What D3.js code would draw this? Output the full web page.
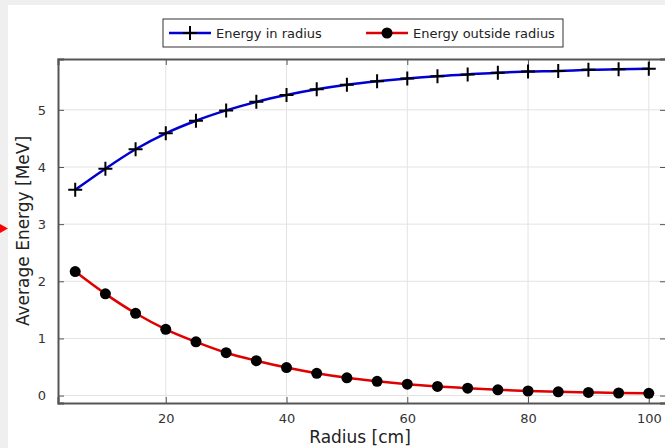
<!DOCTYPE html>
<html>
<head>
<meta charset="utf-8">
<script src="https://cdn.jsdelivr.net/npm/d3@7"></script>
<style>
  body { margin: 0; background: #efefef; }
  svg { display: block; font-family: "DejaVu Sans", sans-serif; }
</style>
</head>
<body>
<svg id="main" width="665" height="448"></svg>
<script>
var radius = [5, 10, 15, 20, 25, 30, 35, 40, 45, 50, 55, 60, 65, 70, 75, 80, 85, 90, 95, 100];
var energyIn = [3.60, 3.97, 4.31, 4.59, 4.81, 4.99, 5.14, 5.26, 5.36, 5.44, 5.50, 5.55, 5.59, 5.62, 5.65, 5.67, 5.68, 5.70, 5.71, 5.72];
var energyOut = [2.17, 1.78, 1.44, 1.16, 0.94, 0.75, 0.61, 0.49, 0.39, 0.31, 0.25, 0.20, 0.16, 0.13, 0.10, 0.08, 0.065, 0.055, 0.045, 0.04];
var xTicks = [20, 40, 60, 80, 100];
var yTicks = [0, 1, 2, 3, 4, 5];
var seriesNames = ["Energy in radius", "Energy outside radius"];

var svg = d3.select("#main");

// white panel on gray page
svg.append("rect").attr("x", 8).attr("y", 5).attr("width", 665).attr("height", 450).attr("fill", "white");

// red arrow at left edge
svg.append("path").attr("d", "M0,224 L8,228.5 L0,233 Z").attr("fill", "#ff0000");

var pL = 58, pT = 59, pR = 666, pB = 403;

var x = d3.scaleLinear().domain([2.15, 102.85]).range([pL, pR]);
var y = d3.scaleLinear().domain([-0.13, 5.89]).range([pB, pT]);

var g = svg.append("g");

// grid
g.selectAll(".gx").data(xTicks).enter().append("line")
  .attr("x1", d => x(d)).attr("x2", d => x(d)).attr("y1", pT).attr("y2", pB)
  .attr("stroke", "#e3e3e3").attr("stroke-width", 1);
g.selectAll(".gy").data(yTicks).enter().append("line")
  .attr("y1", d => y(d)).attr("y2", d => y(d)).attr("x1", pL).attr("x2", pR)
  .attr("stroke", "#e3e3e3").attr("stroke-width", 1);

// axes with inward ticks
var axB = g.append("g").attr("transform", "translate(0," + pB + ")")
  .call(d3.axisBottom(x).tickValues(xTicks).tickSize(-6).tickPadding(11).tickFormat(d3.format("d")));
var axT = g.append("g").attr("transform", "translate(0," + pT + ")")
  .call(d3.axisTop(x).tickValues(xTicks).tickSize(-6).tickFormat(""));
var axL = g.append("g").attr("transform", "translate(" + pL + ",0)")
  .call(d3.axisLeft(y).tickValues(yTicks).tickSize(-6).tickPadding(12).tickFormat(d3.format("d")));
var axR = g.append("g").attr("transform", "translate(" + pR + ",0)")
  .call(d3.axisRight(y).tickValues(yTicks).tickSize(-6).tickFormat(""));

[axB, axT, axL, axR].forEach(function(a) {
  a.select(".domain").attr("stroke", "#555").attr("stroke-width", 2);
  a.selectAll(".tick line").attr("stroke", "#555").attr("stroke-width", 1);
  a.selectAll(".tick text").attr("fill", "#333").attr("font-size", 13).attr("font-family", "DejaVu Sans");
});

// lines
var lineGen = d3.line().x((d, i) => x(radius[i])).y(d => y(d)).curve(d3.curveMonotoneX);
g.append("path").datum(energyIn).attr("d", lineGen)
  .attr("fill", "none").attr("stroke", "#0000d0").attr("stroke-width", 2.5);
g.append("path").datum(energyOut).attr("d", lineGen)
  .attr("fill", "none").attr("stroke", "#e00000").attr("stroke-width", 2.5);

// markers
function cross(sel, cx, cy, s) {
  sel.append("path").attr("d", "M" + (cx - s) + "," + cy + "H" + (cx + s) + "M" + cx + "," + (cy - s) + "V" + (cy + s))
    .attr("stroke", "black").attr("stroke-width", 2).attr("fill", "none");
}
energyIn.forEach(function(v, i) { cross(g, x(radius[i]), y(v), 7); });
g.selectAll(".dot").data(energyOut).enter().append("circle")
  .attr("cx", (d, i) => x(radius[i])).attr("cy", d => y(d)).attr("r", 5.5).attr("fill", "black");

// axis titles
svg.append("text").attr("x", (pL + 662) / 2).attr("y", 443).attr("text-anchor", "middle")
  .attr("font-size", 17).attr("fill", "#222").text("Radius [cm]");
svg.append("text").attr("transform", "translate(29," + ((pT + pB) / 2) + ") rotate(-90)")
  .attr("text-anchor", "middle").attr("font-size", 17).attr("fill", "#222").text("Average Energy [MeV]");

// legend
var lg = svg.append("g");
lg.append("rect").attr("x", 163).attr("y", 19).attr("width", 400).attr("height", 28)
  .attr("fill", "white").attr("stroke", "#333").attr("stroke-width", 1);
lg.append("line").attr("x1", 169).attr("x2", 211).attr("y1", 33).attr("y2", 33)
  .attr("stroke", "#0000d0").attr("stroke-width", 2.5);
cross(lg, 190, 33, 7);
lg.append("text").attr("x", 216).attr("y", 33).attr("dy", "0.35em").attr("font-size", 13).attr("fill", "#222").text(seriesNames[0]);
lg.append("line").attr("x1", 366).attr("x2", 408).attr("y1", 33).attr("y2", 33)
  .attr("stroke", "#e00000").attr("stroke-width", 2.5);
lg.append("circle").attr("cx", 387).attr("cy", 33).attr("r", 5.5).attr("fill", "black");
lg.append("text").attr("x", 413).attr("y", 33).attr("dy", "0.35em").attr("font-size", 13).attr("fill", "#222").text(seriesNames[1]);
</script>
</body>
</html>
